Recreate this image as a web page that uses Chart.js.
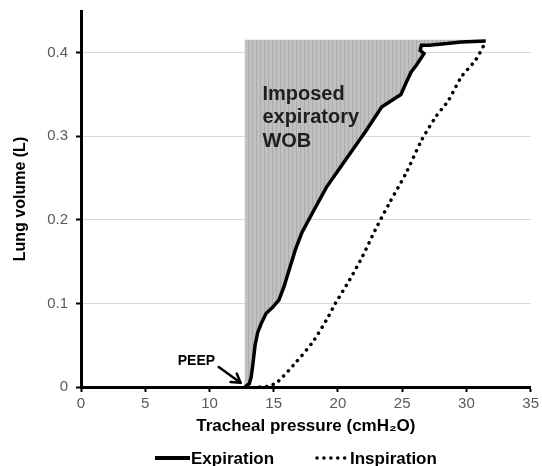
<!DOCTYPE html>
<html><head><meta charset="utf-8">
<script src="https://cdn.jsdelivr.net/npm/chart.js@4/dist/chart.umd.min.js"></script>
<style>html,body{margin:0;padding:0;background:#fff;}canvas{display:block;}</style>
</head><body>
<canvas id="c" width="542" height="466"></canvas>
<script>
// ---- data ----
const expPressure = [12.75, 13.1, 13.25, 13.4, 13.55, 13.75, 14.0, 14.4, 14.9, 15.4, 15.8, 16.2, 16.7, 17.2, 18.0, 19.1, 20.6, 22.2, 23.4, 24.3, 24.9, 25.3, 25.7, 26.1, 26.7, 26.4, 26.5, 27.1, 28.5, 29.6, 31.5];
const expVolume   = [0, 0.004, 0.012, 0.03, 0.05, 0.065, 0.075, 0.088, 0.095, 0.104, 0.12, 0.14, 0.165, 0.185, 0.208, 0.239, 0.272, 0.307, 0.335, 0.344, 0.35, 0.364, 0.377, 0.385, 0.399, 0.403, 0.409, 0.409, 0.411, 0.413, 0.414];
const inspPressure = [13.9, 14.6, 15.2, 15.7, 16.7, 18.0, 19.1, 19.8, 20.9, 21.9, 22.9, 24.0, 25.3, 26.5, 27.6, 28.6, 29.6, 30.7, 31.5];
const inspVolume   = [0, 0.001, 0.005, 0.012, 0.029, 0.053, 0.08, 0.1, 0.128, 0.156, 0.188, 0.22, 0.256, 0.295, 0.323, 0.343, 0.371, 0.391, 0.413];
const wobLeftPressure = 12.75;   // left edge of the shaded imposed WOB area
const wobTopVolume = 0.4155;     // top edge of the shaded area
const xTickLabels = ['0', '5', '10', '15', '20', '25', '30', '35'];
const yTickLabels = ['0', '0.1', '0.2', '0.3', '0.4'];
const seriesNames = ['Expiration', 'Inspiration'];
const wobText = ['Imposed', 'expiratory', 'WOB'];
const peepText = 'PEEP';

function pts(xs, ys) { return xs.map((x, i) => ({ x: x, y: ys[i] })); }
const wobPolygon = [
  { x: wobLeftPressure, y: 0 },
  { x: wobLeftPressure, y: wobTopVolume },
  { x: expPressure[expPressure.length - 1], y: wobTopVolume }
].concat(pts(expPressure, expVolume).reverse());

const FONT = '"Liberation Sans", Arial, Helvetica, sans-serif';

// vertical stripe pattern for the shaded area
const pc = document.createElement('canvas'); pc.width = 4; pc.height = 4;
const pctx = pc.getContext('2d');
pctx.fillStyle = '#c0c0c0'; pctx.fillRect(0, 0, 4, 4);
pctx.fillStyle = '#adadad'; pctx.fillRect(0, 0, 1, 4);
const canvas = document.getElementById('c');
const stripes = canvas.getContext('2d').createPattern(pc, 'repeat');

const annotations = {
  id: 'annotations',
  afterDatasetsDraw(chart) {
    const { ctx, scales: { x, y } } = chart;
    ctx.save();
    // WOB label
    ctx.fillStyle = '#1e1e1e';
    ctx.font = 'bold 20px ' + FONT;
    ctx.textAlign = 'left'; ctx.textBaseline = 'alphabetic';
    const wx = x.getPixelForValue(14.12), wy = y.getPixelForValue(0.3435);
    wobText.forEach((t, i) => ctx.fillText(t, wx, wy + i * 23.5));
    // PEEP label
    ctx.fillStyle = '#000';
    ctx.font = 'bold 14px ' + FONT;
    ctx.fillText(peepText, x.getPixelForValue(7.53), y.getPixelForValue(0.026));
    // arrow
    const x1 = x.getPixelForValue(10.72), y1 = y.getPixelForValue(0.024);
    const x2 = x.getPixelForValue(12.42), y2 = y.getPixelForValue(0.005);
    ctx.strokeStyle = '#000'; ctx.lineWidth = 2.5; ctx.lineCap = 'round'; ctx.lineJoin = 'round';
    ctx.beginPath(); ctx.moveTo(x1, y1); ctx.lineTo(x2, y2); ctx.stroke();
    const ang = Math.atan2(y2 - y1, x2 - x1), L = 10;
    ctx.beginPath();
    ctx.moveTo(x2 - L * Math.cos(ang - 0.55), y2 - L * Math.sin(ang - 0.55));
    ctx.lineTo(x2, y2);
    ctx.lineTo(x2 - L * Math.cos(ang + 0.55), y2 - L * Math.sin(ang + 0.55));
    ctx.stroke();
    ctx.restore();
  }
};

const bottomLegend = {
  id: 'bottomLegend',
  afterDraw(chart) {
    const ctx = chart.ctx;
    const ds = chart.data.datasets;
    const ly = 458, base = 464;
    ctx.save();
    ctx.font = 'bold 17px ' + FONT;
    ctx.fillStyle = '#000';
    ctx.textAlign = 'left'; ctx.textBaseline = 'alphabetic';
    // expiration
    ctx.strokeStyle = ds[0].borderColor; ctx.lineWidth = 4; ctx.lineCap = 'butt';
    ctx.beginPath(); ctx.moveTo(155, ly); ctx.lineTo(190, ly); ctx.stroke();
    ctx.fillText(ds[0].label, 191, base);
    // inspiration
    ctx.strokeStyle = ds[1].borderColor; ctx.lineWidth = 3.5; ctx.lineCap = 'round';
    ctx.setLineDash(ds[1].borderDash);
    ctx.beginPath(); ctx.moveTo(317, ly); ctx.lineTo(347, ly); ctx.stroke();
    ctx.setLineDash([]);
    ctx.fillText(ds[1].label, 350, base);
    ctx.restore();
  }
};

new Chart(canvas, {
  type: 'scatter',
  data: {
    datasets: [
      {
        label: seriesNames[0],
        data: pts(expPressure, expVolume),
        showLine: true, borderColor: '#000', borderWidth: 3.5,
        pointRadius: 0, tension: 0, fill: false, order: 1
      },
      {
        label: seriesNames[1],
        data: pts(inspPressure, inspVolume),
        showLine: true, borderColor: '#000', borderWidth: 3.5,
        borderDash: [0.1, 6.8], borderCapStyle: 'round',
        pointRadius: 0, tension: 0.25, fill: false, order: 2
      },
      {
        label: 'Imposed expiratory WOB',
        data: wobPolygon,
        showLine: true, borderColor: 'rgba(0,0,0,0)', borderWidth: 0,
        backgroundColor: stripes, pointRadius: 0, tension: 0,
        fill: 'shape', order: 3
      }
    ]
  },
  options: {
    responsive: false,
    animation: false,
    devicePixelRatio: 1,
    layout: { padding: { left: 0, right: 10, top: 11, bottom: 26 } },
    plugins: { legend: { display: false }, tooltip: { enabled: false } },
    scales: {
      x: {
        type: 'linear', min: 0, max: 35,
        ticks: {
          stepSize: 5, color: '#595959', padding: 3,
          font: { family: FONT, size: 15 },
          callback: (v, i) => xTickLabels[i]
        },
        grid: { drawOnChartArea: false, drawTicks: true, tickLength: 5, tickColor: '#000', tickWidth: 2 },
        border: { display: true, color: '#000', width: 3 },
        title: {
          display: true, text: 'Tracheal pressure (cmH\u2082O)', color: '#000',
          font: { family: FONT, size: 17, weight: 'bold' }, padding: { top: 0, bottom: 3 }
        },
        afterFit: (s) => { s.height = 53; }
      },
      y: {
        type: 'linear', min: 0, max: 0.45,
        ticks: {
          stepSize: 0.1, color: '#595959', padding: 8,
          font: { family: FONT, size: 15 },
          callback: (v, i) => (i < yTickLabels.length ? yTickLabels[i] : null)
        },
        grid: { color: '#d9d9d9', lineWidth: 1, drawTicks: true, tickLength: 5, tickColor: '#000', tickWidth: 2 },
        border: { display: true, color: '#000', width: 3 },
        title: {
          display: true, text: 'Lung volume (L)', color: '#000',
          font: { family: FONT, size: 16, weight: 'bold' }, padding: { top: 11, bottom: 0 }
        },
        afterFit: (s) => { s.width = 81; s.paddingTop = 0; s.paddingBottom = 0; }
      }
    }
  },
  plugins: [annotations, bottomLegend]
});
</script>
</body></html>
